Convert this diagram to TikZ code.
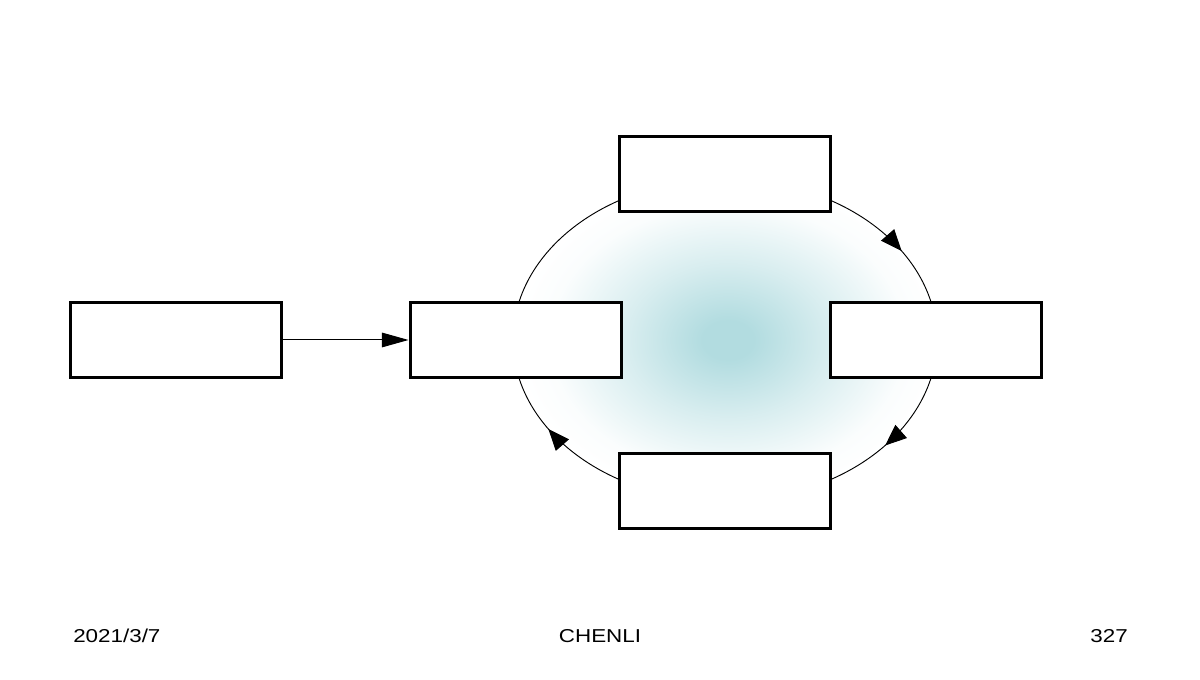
\documentclass[tikz,border=0pt]{standalone}
\usepackage{fontspec}
\setmainfont{Liberation Sans}
\newfontfamily\footfont[FakeStretch=1.2]{Liberation Sans}
\usetikzlibrary{arrows.meta,decorations.markings,calc}
\definecolor{glowc}{RGB}{178,220,224}
\pgfdeclareradialshading{glow}{\pgfpoint{0bp}{0bp}}{%
  color(0bp)=(glowc); color(3bp)=(glowc); color(12bp)=(glowc!50!white);
  color(21bp)=(glowc!6!white); color(25bp)=(white); color(50bp)=(white)}
\tikzset{
  box/.style={draw, line width=2.25pt, fill=white, minimum width=158.25pt, minimum height=56.25pt, inner sep=0pt},
  cyc/.style={line width=0.7pt},
  midarrow/.style={postaction={decorate}, decoration={markings,
     mark=at position #1 with {\arrow{Triangle[length=16pt,width=13pt]}}}},
  foot/.style={font=\footfont\fontsize{14pt}{16pt}\selectfont, inner sep=0pt}
}
\begin{document}
\begin{tikzpicture}[x=0.75pt,y=0.75pt]
\useasboundingbox (0,0) rectangle (1200,680);
% shaded ellipse
\path[shading=glow] (728,340) ellipse [x radius=212, y radius=161];
% cycle arcs
\coordinate (c) at (725,340);
\draw[cyc,midarrow=0.6] ($(c)+(60:212 and 161)$) coordinate (tr) arc [start angle=60, end angle=14, x radius=212, y radius=161];
\draw[cyc,midarrow=0.56] ($(c)+(-14:212 and 161)$) coordinate (rb) arc [start angle=-14, end angle=-60, x radius=212, y radius=161];
\draw[cyc,midarrow=0.6] ($(c)+(-120:212 and 161)$) coordinate (bl) arc [start angle=-120, end angle=-166, x radius=212, y radius=161];
\draw[cyc] ($(c)+(166:212 and 161)$) coordinate (lt) arc [start angle=166, end angle=120, x radius=212, y radius=161];
% boxes
\node[box] (A) at (175.5,340) {};
\node[box] (B) at (515.5,340) {};
\node[box] (T) at (725,506) {};
\node[box] (R) at (935.5,340) {};
\node[box] (D) at (725,189) {};
\draw[line width=0.75pt,-{Triangle[length=20pt,width=11pt]}] (A.east) -- (B.west);
% footer
\node[foot,anchor=base west] (f1) at (73,37.5) {2021/3/7};
\node[foot,anchor=base] (f2) at (600,37.5) {CHENLI};
\node[foot,anchor=base east] (f3) at (1128,37.5) {327};
\end{tikzpicture}
\end{document}
